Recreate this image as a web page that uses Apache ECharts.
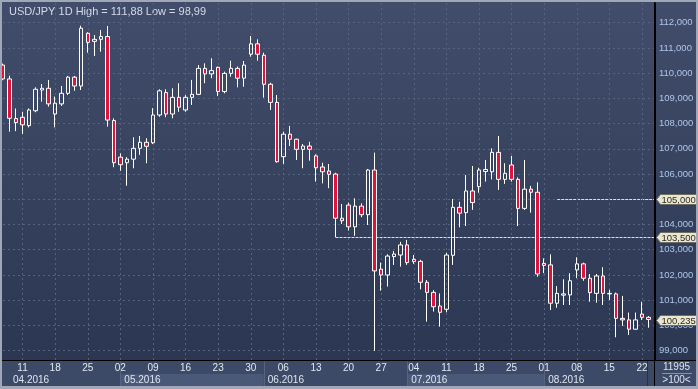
<!DOCTYPE html>
<html><head><meta charset="utf-8">
<script src="https://cdn.jsdelivr.net/npm/echarts@6/dist/echarts.min.js"></script>
<style>html,body{margin:0;padding:0;background:#2f3b56;}#c{width:698px;height:389px;}</style>
</head><body><div id="c"></div>
<script>
const dates = [
'2016-04-06','2016-04-07','2016-04-08','2016-04-11','2016-04-12','2016-04-13','2016-04-14','2016-04-15','2016-04-18','2016-04-19','2016-04-20','2016-04-21','2016-04-22','2016-04-25','2016-04-26','2016-04-27','2016-04-28','2016-04-29',
'2016-05-02','2016-05-03','2016-05-04','2016-05-05','2016-05-06','2016-05-09','2016-05-10','2016-05-11','2016-05-12','2016-05-13','2016-05-16','2016-05-17','2016-05-18','2016-05-19','2016-05-20','2016-05-23','2016-05-24','2016-05-25','2016-05-26','2016-05-27','2016-05-30','2016-05-31',
'2016-06-01','2016-06-02','2016-06-03','2016-06-06','2016-06-07','2016-06-08','2016-06-09','2016-06-10','2016-06-13','2016-06-14','2016-06-15','2016-06-16','2016-06-17','2016-06-20','2016-06-21','2016-06-22','2016-06-23','2016-06-24','2016-06-27','2016-06-28','2016-06-29','2016-06-30',
'2016-07-01','2016-07-04','2016-07-05','2016-07-06','2016-07-07','2016-07-08','2016-07-11','2016-07-12','2016-07-13','2016-07-14','2016-07-15','2016-07-18','2016-07-19','2016-07-20','2016-07-21','2016-07-22','2016-07-25','2016-07-26','2016-07-27','2016-07-28','2016-07-29',
'2016-08-01','2016-08-02','2016-08-03','2016-08-04','2016-08-05','2016-08-08','2016-08-09','2016-08-10','2016-08-11','2016-08-12','2016-08-15','2016-08-16','2016-08-17','2016-08-18','2016-08-19','2016-08-22','2016-08-23'
];
const padDate = '2016-08-24';
const open = [
110.32,109.77,108.2,108.25,107.92,108.51,109.33,109.4,108.38,108.78,109.2,109.84,109.49,111.58,111.26,111.34,111.45,108.12,
106.67,106.45,106.59,107.02,107.26,107.24,108.34,109.23,108.38,109.04,108.54,109.04,109.16,110.19,109.97,110.23,109.27,109.99,110.19,109.8,110.75,111.16,
110.71,109.56,108.84,106.69,107.58,107.38,106.98,107.11,106.72,106.28,106.12,106.0,104.25,104.77,103.91,104.73,104.39,106.16,102.23,102.0,102.73,102.79,
103.19,102.62,102.54,101.71,101.31,100.77,100.64,102.78,104.68,104.47,105.33,105.5,106.1,106.09,106.86,105.79,106.36,105.79,104.64,105.4,105.28,
102.46,102.4,100.88,101.2,101.21,102.2,102.44,101.87,101.27,101.96,101.27,101.25,100.28,100.22,99.85,100.45,100.32
];
const close = [
109.77,108.21,108.04,107.95,108.54,109.36,109.4,108.78,108.81,109.2,109.84,109.49,111.78,111.22,111.34,111.45,108.14,106.45,
106.37,106.59,107.02,107.26,107.1,108.34,109.3,108.38,109.04,108.65,109.04,109.16,110.19,109.97,110.1,109.27,109.99,110.19,109.8,110.32,111.16,110.75,
109.56,108.84,106.49,107.58,107.38,106.98,107.11,106.98,106.25,106.09,105.99,104.25,104.15,103.91,104.73,104.39,106.16,102.16,102.0,102.75,102.83,103.19,
102.49,102.53,101.71,101.31,100.74,100.52,102.79,104.68,104.45,105.33,104.87,106.16,106.18,106.86,105.79,106.03,105.79,104.64,105.4,105.28,102.04,
102.38,100.88,101.27,101.25,101.77,102.44,101.87,101.3,101.96,101.27,101.25,100.28,100.22,99.85,100.22,100.32,100.235
];
const high = [
110.38,109.9,108.6,108.47,108.6,109.44,109.57,109.73,109.07,109.49,109.89,109.89,111.88,111.62,111.51,111.71,111.87,108.21,
106.82,106.67,107.46,107.51,107.42,108.61,109.36,109.36,109.4,109.6,109.13,109.73,110.32,110.39,110.59,110.26,110.06,110.49,110.26,110.48,111.47,111.34,
110.81,109.62,109.13,107.68,107.91,107.4,107.19,107.28,106.78,106.45,106.4,106.05,104.81,104.87,105.04,104.84,106.2,106.85,102.49,102.82,102.95,103.31,
103.39,102.79,102.6,101.8,101.4,101.27,102.88,105.01,104.9,105.96,106.32,106.25,106.56,107.02,107.51,106.43,106.72,105.87,106.56,105.53,105.67,
102.66,102.82,101.56,101.83,102.07,102.7,102.49,102.04,102.04,102.31,101.41,101.3,101.17,100.51,100.51,100.94,100.37
];
const low = [
109.72,107.68,107.7,107.59,107.85,108.45,108.87,108.67,107.85,108.7,109.13,109.3,109.33,110.81,110.68,110.85,107.88,106.27,
106.13,105.54,106.23,106.76,106.43,107.19,108.27,108.25,108.21,108.47,108.47,108.74,109.13,109.6,109.8,109.09,109.2,109.86,109.44,109.46,110.65,110.49,
109.03,108.54,106.45,106.4,107.11,106.56,106.23,106.53,105.7,105.63,105.44,103.5,104.02,103.76,103.55,104.29,103.98,98.99,101.38,101.54,102.4,102.33,
102.4,102.44,101.43,100.15,100.55,99.95,100.52,102.4,103.89,103.94,104.58,105.26,105.7,105.79,105.37,105.61,105.7,103.94,104.58,104.47,101.93,
102.07,100.61,100.7,100.81,100.81,101.87,101.77,100.94,100.9,100.81,101.01,99.53,99.98,99.62,99.83,100.22,99.91
];
const levelValues = [105, 103.5];
const levelStarts = ['2016-08-03', '2016-06-16'];
const priceTags = [105, 103.5, 100.235];
const infoTexts = ['11995', '>100<'];
const yMin = 98.61, yMax = 112.78;

const FONT = "'Liberation Sans',Arial,sans-serif";
const cats = dates.concat([padDate]);
const ohlc = dates.map((d, i) => [open[i], close[i], low[i], high[i]]);
const fmt3 = v => v.toFixed(3).replace('.', ',');
const fmt2 = v => v.toFixed(2).replace('.', ',');
const isMonday = s => new Date(s + 'T00:00:00Z').getUTCDay() === 1;
const titleText = 'USD/JPY 1D High = ' + fmt2(Math.max(...high)) + ' Low = ' + fmt2(Math.min(...low));

const months = [];
dates.forEach((d, i) => {
  const key = d.slice(0, 7);
  if (!months.length || months[months.length - 1].key !== key) {
    months.push({ key: key, start: i, label: d.slice(5, 7) + '.' + d.slice(0, 4) });
  }
});
months.forEach((m, k) => { m.end = k < months.length - 1 ? months[k + 1].start : dates.length - 1; });

const chart = echarts.init(document.getElementById('c'));
const gridLine = { color: '#56637f', type: [2, 3], width: 1 };

chart.setOption({
  animation: false,
  backgroundColor: { type: 'linear', x: 0, y: 0, x2: 0, y2: 1,
    colorStops: [{ offset: 0, color: '#414d6a' }, { offset: 1, color: '#2a3650' }] },
  title: { text: titleText, left: 4, top: 1,
    textStyle: { color: '#d4dcea', fontSize: 11, fontWeight: 'normal', fontFamily: FONT } },
  grid: { left: 3, top: 3, width: 652, height: 357.5, containLabel: false, outerBoundsMode: 'none' },
  xAxis: {
    type: 'category', data: cats, boundaryGap: false, z: 10,
    axisLine: { show: true, lineStyle: { color: '#000', width: 1 } },
    axisTick: { show: false },
    axisLabel: { interval: (i, v) => isMonday(v), formatter: v => v.slice(8, 10),
      color: '#e2e8f2', fontSize: 10, margin: 3, fontFamily: FONT },
    splitLine: { show: true, interval: (i, v) => isMonday(v), lineStyle: gridLine }
  },
  yAxis: {
    type: 'value', position: 'right', min: yMin, max: yMax, minInterval: 1, maxInterval: 1, splitNumber: 14,
    axisLine: { show: true, lineStyle: { color: '#000', width: 1 } },
    axisTick: { show: false },
    axisLabel: { formatter: v => Math.abs(v - Math.round(v)) < 1e-6 ? fmt3(v) : '',
      color: '#aec6ea', fontSize: 9.5, margin: 4, fontFamily: FONT },
    splitLine: { show: true, lineStyle: gridLine, showMinLine: false, showMaxLine: false }
  },
  series: [
    {
      type: 'candlestick', data: ohlc, barWidth: 4, clip: true, z: 12,
      itemStyle: { color: 'rgba(0,0,0,0)', color0: '#e3123c', borderColor: '#ffffff', borderColor0: '#ffffff',
        borderColorDoji: '#ffffff', borderWidth: 1 },
      emphasis: { disabled: true },
      markLine: {
        silent: true, symbol: ['none', 'none'], label: { show: false }, animation: false,
        lineStyle: { color: '#dedede', type: [3, 1], width: 1 },
        emphasis: { disabled: true },
        data: levelValues.map((v, i) => [{ coord: [levelStarts[i], v] }, { coord: [padDate, v] }])
      }
    },
    {
      type: 'custom', z: 14, clip: false, silent: true,
      data: months.map((m, k) => [m.start, m.end, k]),
      encode: { x: [0, 1], y: 2 },
      renderItem: (params, api) => {
        const cs = params.coordSys;
        const k = api.value(2);
        const x0 = api.coord([api.value(0), yMin])[0];
        const x1 = api.coord([api.value(1), yMin])[0];
        const base = cs.y + cs.height;
        const top = base + 13.5, bottom = base + 25.5;
        const children = [
          { type: 'rect', shape: { x: x0, y: top, width: x1 - x0, height: bottom - top },
            style: { fill: k % 2 ? '#4a5977' : '#3c4a67' } },
          { type: 'text', style: { text: months[k].label, x: x0 + (k === 0 ? 10 : 4), y: (top + bottom) / 2 + 0.5,
            verticalAlign: 'middle', fill: '#dfe6f2', fontSize: 10, fontFamily: FONT } }
        ];
        if (k > 0) children.push({ type: 'line', shape: { x1: Math.round(x0) + 0.5, y1: base + 1, x2: Math.round(x0) + 0.5, y2: bottom },
          style: { stroke: '#566480', lineWidth: 1 } });
        return { type: 'group', children: children };
      }
    },
    {
      type: 'custom', z: 16, clip: false, silent: true,
      data: priceTags.map(v => [padDate, v]),
      encode: { x: 0, y: 1 },
      renderItem: (params, api) => {
        const cs = params.coordSys;
        const v = api.value(1);
        const y = Math.round(api.coord([0, v])[1]) + 0.5;
        const x = cs.x + cs.width;
        return { type: 'group', children: [
          { type: 'polygon', shape: { points: [[x + 1.5, y], [x + 5.5, y - 5], [x + 46, y - 5], [x + 46, y + 5], [x + 5.5, y + 5]] },
            style: { fill: '#ebe7cf', stroke: '#6f6d60', lineWidth: 1 } },
          { type: 'text', style: { text: fmt3(v), x: x + 6.5, y: y + 0.5, verticalAlign: 'middle',
            fill: '#2a2a2a', fontSize: 9.5, fontFamily: FONT } }
        ] };
      }
    }
  ],
  graphic: [
    { type: 'rect', z: 1, silent: true, shape: { x: 0, y: 360.5, width: 698, height: 26 }, style: { fill: '#3c4a67' } },
    { type: 'line', z: 20, silent: true, shape: { x1: 647.5, y1: 361, x2: 647.5, y2: 386 }, style: { stroke: '#27324a', lineWidth: 1 } },
    { type: 'line', z: 20, silent: true, shape: { x1: 0, y1: 360.5, x2: 698, y2: 360.5 }, style: { stroke: '#000', lineWidth: 1 } },
    { type: 'line', z: 20, silent: true, shape: { x1: 654.5, y1: 2, x2: 654.5, y2: 386 }, style: { stroke: '#000', lineWidth: 1 } },
    { type: 'text', z: 20, silent: true, style: { text: infoTexts[0], x: 676.5, y: 367, align: 'center', verticalAlign: 'middle',
      fill: '#dce3ef', fontSize: 10, fontFamily: FONT } },
    { type: 'line', z: 20, silent: true, shape: { x1: 662, y1: 373.5, x2: 692, y2: 373.5 }, style: { stroke: '#8993a8', lineWidth: 1 } },
    { type: 'text', z: 20, silent: true, style: { text: infoTexts[1], x: 676.5, y: 380, align: 'center', verticalAlign: 'middle',
      fill: '#dce3ef', fontSize: 10, fontFamily: FONT } },
    { type: 'rect', z: 30, silent: true, shape: { x: 1, y: 1, width: 696, height: 386 }, style: { fill: 'none', stroke: '#a0a8b7', lineWidth: 2 } },
    { type: 'rect', z: 30, silent: true, shape: { x: 0, y: 386, width: 698, height: 3 }, style: { fill: '#a0a8b7' } }
  ]
});
</script>
</body></html>
